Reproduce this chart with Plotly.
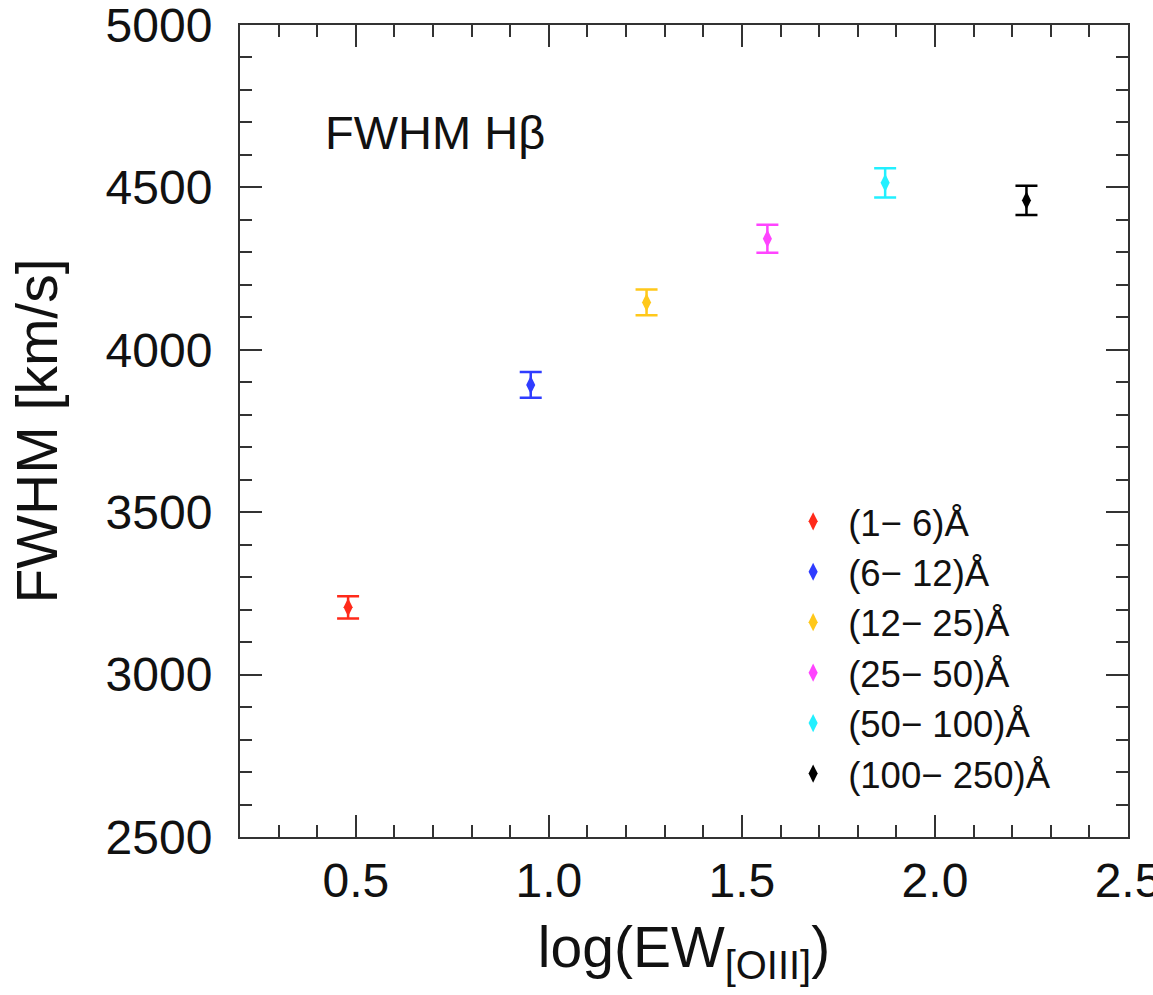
import plotly.graph_objects as go

# Data
labels = ["(1− 6)Å", "(6− 12)Å", "(12− 25)Å", "(25− 50)Å", "(50− 100)Å", "(100− 250)Å"]
log_ew = [0.48, 0.953, 1.253, 1.566, 1.871, 2.237]
fwhm = [3207, 3892, 4146, 4342, 4514, 4460]
fwhm_err = [34, 40, 40, 43, 45, 45]
colors = ["#ff2a1a", "#2f3cff", "#ffc81a", "#ff44ff", "#22f0ff", "#000000"]

FONT = "Liberation Sans, Arial, sans-serif"
AX = "#333333"

fig = go.Figure()
for lab, x, y, e, c in zip(labels, log_ew, fwhm, fwhm_err, colors):
    fig.add_trace(go.Scatter(
        x=[x], y=[y], mode="markers", name=lab,
        marker=dict(symbol="diamond-tall", size=13, color=c, line=dict(width=0)),
        error_y=dict(type="data", array=[e], visible=True, color=c, thickness=2.5, width=11),
    ))

axis_common = dict(
    showline=True, linecolor=AX, linewidth=2, mirror="ticks",
    ticks="inside", ticklen=22, tickwidth=2, tickcolor=AX,
    showgrid=False, zeroline=False, automargin=False,
    ticklabeloverflow="allow",
    tickfont=dict(family=FONT, size=48, color="#111111"),
)

fig.update_xaxes(
    range=[0.2, 2.5], tick0=0.5, dtick=0.5, tickformat=".1f",
    minor=dict(ticks="inside", ticklen=12, tickwidth=2, tickcolor=AX, dtick=0.1, tick0=0.0, showgrid=False),
    title=dict(text="log(EW<sub>[OIII]</sub>)", font=dict(family=FONT, size=57, color="#111111"), standoff=22),
    ticklabelstandoff=0,
    **axis_common,
)
fig.update_yaxes(
    range=[2500, 5000], tick0=2500, dtick=500,
    minor=dict(ticks="inside", ticklen=12, tickwidth=2, tickcolor=AX, dtick=100, tick0=2500, showgrid=False),
    title=dict(text="FWHM [km/s]", font=dict(family=FONT, size=57, color="#111111"), standoff=30),
    ticklabelstandoff=16,
    **axis_common,
)

fig.add_annotation(
    text="FWHM Hβ", xref="paper", yref="paper", x=0.094, y=0.868,
    xanchor="left", yanchor="middle", showarrow=False,
    font=dict(family=FONT, size=47, color="#111111"),
)

fig.update_layout(
    width=1153, height=995,
    margin=dict(l=240, r=25, t=25, b=158),
    paper_bgcolor="white", plot_bgcolor="white",
    template="none",
    showlegend=True,
    legend=dict(
        x=0.606, y=0.426, xanchor="left", yanchor="top",
        bgcolor="rgba(0,0,0,0)", borderwidth=0,
        font=dict(family=FONT, size=36.5, color="#111111"),
        itemwidth=60, tracegroupgap=0,
    ),
)

fig.write_html("out.html")
